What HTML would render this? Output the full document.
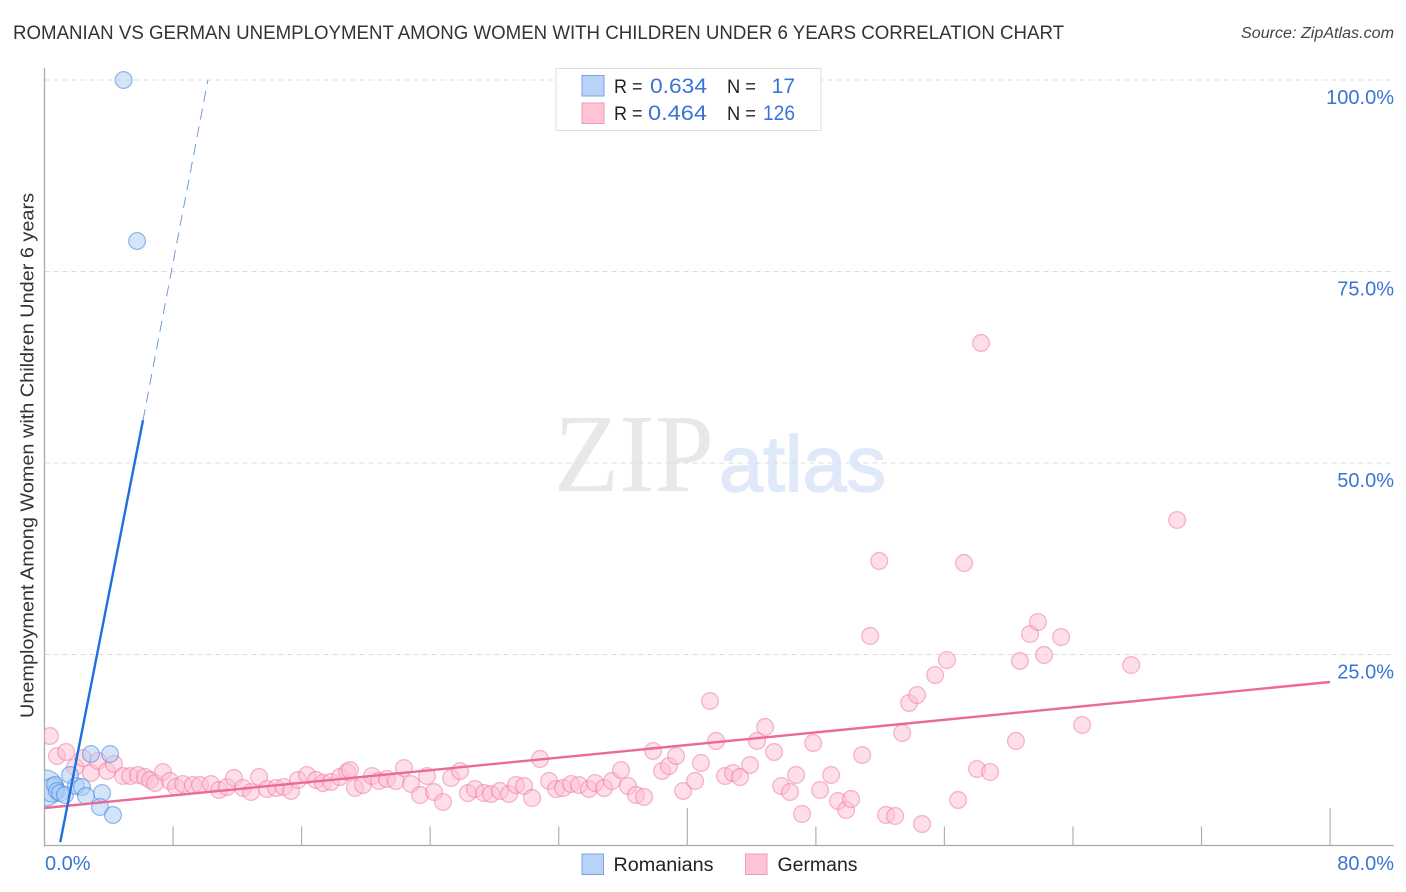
<!DOCTYPE html>
<html lang="en">
<head>
<meta charset="utf-8">
<title>Romanian vs German Unemployment Correlation Chart</title>
<style>
html,body{margin:0;padding:0;background:#fff;width:1406px;height:892px;overflow:hidden}
svg{display:block}
text{font-family:"Liberation Sans",sans-serif}
</style>
</head>
<body>
<svg id="chart" xmlns="http://www.w3.org/2000/svg" width="1406" height="892" viewBox="0 0 1406 892">
  <rect x="0" y="0" width="1406" height="892" fill="#ffffff"/>
  <text x="13" y="39" font-size="19" fill="#333333" textLength="1051" lengthAdjust="spacingAndGlyphs">ROMANIAN VS GERMAN UNEMPLOYMENT AMONG WOMEN WITH CHILDREN UNDER 6 YEARS CORRELATION CHART</text>
  <text x="1241" y="38" font-size="15.5" font-style="italic" fill="#444444" textLength="153" lengthAdjust="spacingAndGlyphs">Source: ZipAtlas.com</text>
  <g>
    <text x="554" y="491" font-size="111" fill="#e8e8e8" style="font-family:'Liberation Serif',serif" textLength="160" lengthAdjust="spacingAndGlyphs">ZIP</text>
    <text x="719" y="491" font-size="79" fill="#dfe9f9" stroke="#dfe9f9" stroke-width="1.5" textLength="167" lengthAdjust="spacingAndGlyphs">atlas</text>
  </g>
  <g id="grid"></g>
  <g id="axes"></g>
  <defs><clipPath id="plot-clip"><rect x="44.5" y="60" width="1350" height="786"/></clipPath></defs>
  <g id="germans" clip-path="url(#plot-clip)"></g>
  <g id="romanians" clip-path="url(#plot-clip)"></g>
  <g id="trends"></g>
  <text transform="translate(33.5,718) rotate(-90)" font-size="18.5" fill="#333333" textLength="525" lengthAdjust="spacingAndGlyphs">Unemployment Among Women with Children Under 6 years</text>
  <g>
    <rect x="556" y="68.5" width="265" height="62" fill="#ffffff" stroke="#dddddd" stroke-width="1"/>
    <rect x="582" y="75.5" width="22" height="20.5" fill="#b9d3f8" stroke="#75a5e6" stroke-width="1"/>
    <rect x="582" y="103" width="22" height="20.5" fill="#fec3d6" stroke="#f09ab8" stroke-width="1"/>
    <text x="614" y="93" font-size="19" fill="#222222" textLength="28.5" lengthAdjust="spacingAndGlyphs">R =</text>
    <text x="650" y="93" font-size="21" fill="#3a74d4" textLength="57" lengthAdjust="spacingAndGlyphs">0.634</text>
    <text x="727" y="93" font-size="19" fill="#222222" textLength="29" lengthAdjust="spacingAndGlyphs">N =</text>
    <text x="795" y="93" font-size="21" fill="#3a74d4" text-anchor="end">17</text>
    <text x="614" y="120" font-size="19" fill="#222222" textLength="28.5" lengthAdjust="spacingAndGlyphs">R =</text>
    <text x="648" y="120" font-size="21" fill="#3a74d4" textLength="59" lengthAdjust="spacingAndGlyphs">0.464</text>
    <text x="727" y="120" font-size="19" fill="#222222" textLength="29" lengthAdjust="spacingAndGlyphs">N =</text>
    <text x="763" y="120" font-size="21" fill="#3a74d4" textLength="32" lengthAdjust="spacingAndGlyphs">126</text>
  </g>
  <g>
    <rect x="582" y="854" width="21.5" height="20.5" fill="#b9d3f8" stroke="#75a5e6" stroke-width="1"/>
    <text x="613.5" y="871" font-size="19" fill="#222222" textLength="100" lengthAdjust="spacingAndGlyphs">Romanians</text>
    <rect x="745.5" y="854" width="21.5" height="20.5" fill="#fec3d6" stroke="#f09ab8" stroke-width="1"/>
    <text x="777.5" y="871" font-size="19" fill="#222222" textLength="80" lengthAdjust="spacingAndGlyphs">Germans</text>
  </g>
</svg>
<script>
const xTicks = [0, 8, 16, 24, 32, 40, 48, 56, 64, 72, 80];
const xMajorTicks = [0, 40, 80];
const xTickLabels = [0, 80];
const yTicks = [25, 50, 75, 100];

const romaniansX = [4.92, 5.76, 2.89, 4.08, 0.03, 0.47, 0.65, 0.78, 0.96, 1.27, 1.59, 1.96, 2.33, 2.58, 3.58, 3.45, 4.26];
const romaniansY = [100, 78.98, 12.01, 12.01, 7.57, 7.31, 7.96, 7.18, 6.92, 6.66, 9.27, 7.83, 7.70, 6.53, 6.92, 5.09, 4.05];
const romaniansWeight = [1, 1, 1, 1, 4.6, 2, 1, 1, 1, 1, 1, 1, 1, 1, 1, 1, 1];

const germansX = [0.34, 0.78, 1.34, 1.90, 2.40, 2.89, 3.33, 3.89, 4.32, 4.89, 5.32, 5.82, 6.25, 6.57, 6.88, 7.37, 7.81, 8.18, 8.62, 9.24, 9.68, 10.36, 10.86, 11.36, 11.79, 12.35, 12.85, 13.35, 13.85, 14.41, 14.90, 15.34, 15.78, 16.34, 16.90, 17.33, 17.83, 18.39, 18.83, 19.01, 19.32, 19.82, 20.38, 20.82, 21.31, 21.87, 22.37, 22.81, 23.37, 23.80, 24.24, 24.80, 25.30, 25.86, 26.35, 26.79, 27.35, 27.79, 28.35, 28.91, 29.34, 29.84, 30.34, 30.84, 31.40, 31.83, 32.27, 32.77, 33.26, 33.88, 34.26, 34.82, 35.32, 35.88, 36.31, 36.81, 37.31, 37.87, 38.43, 38.86, 39.30, 39.74, 40.48, 40.85, 41.41, 41.79, 42.35, 42.85, 43.28, 43.90, 44.34, 44.84, 45.40, 45.84, 46.39, 46.77, 47.14, 47.83, 48.26, 48.95, 49.38, 49.88, 50.19, 50.88, 51.38, 51.94, 52.37, 52.93, 53.37, 53.80, 54.30, 54.61, 55.42, 56.16, 56.85, 57.22, 58.03, 58.28, 58.84, 60.45, 60.70, 61.33, 61.82, 62.20, 63.26, 64.57, 67.62, 70.48];
const germansY = [14.36, 11.75, 12.27, 10.31, 11.49, 9.53, 11.10, 9.79, 10.71, 9.14, 9.14, 9.27, 9.01, 8.62, 8.22, 9.66, 8.49, 7.70, 8.09, 7.96, 7.96, 8.09, 7.31, 7.70, 8.88, 7.57, 7.05, 9.01, 7.44, 7.57, 7.70, 7.18, 8.62, 9.27, 8.62, 8.22, 8.36, 9.01, 9.66, 9.92, 7.57, 7.96, 9.14, 8.49, 8.75, 8.49, 10.18, 8.09, 6.66, 9.14, 7.05, 5.74, 8.88, 9.79, 6.92, 7.44, 6.92, 6.79, 7.18, 6.79, 7.96, 7.83, 6.27, 11.36, 8.49, 7.44, 7.57, 8.09, 7.96, 7.44, 8.22, 7.57, 8.49, 9.92, 7.83, 6.66, 6.40, 12.40, 9.79, 10.44, 11.75, 7.18, 8.49, 10.84, 18.93, 13.71, 9.14, 9.53, 9.01, 10.57, 13.71, 15.54, 12.27, 7.83, 7.05, 9.27, 4.18, 13.45, 7.31, 9.27, 5.87, 4.70, 6.14, 11.88, 27.42, 37.21, 4.05, 3.92, 14.75, 18.67, 19.71, 2.87, 22.32, 24.28, 6.01, 36.95, 10.05, 65.67, 9.66, 13.71, 24.15, 27.68, 29.24, 24.94, 27.28, 15.80, 23.63, 42.56];

const germansTrendX = [0, 80];
const germansTrendY = [4.96, 21.41];
const romaniansSolidTrendX = [0.98, 6.13];
const romaniansSolidTrendY = [0.5, 55.6];
const romaniansDashedTrendX = [6.13, 10.17];
const romaniansDashedTrendY = [55.6, 100];

const NS = 'http://www.w3.org/2000/svg';
const xPos = v => 44.5 + v * 16.07;
const yPos = v => 846 - v * 7.66;

function make(tag, attrs, parent) {
  const el = document.createElementNS(NS, tag);
  for (const k in attrs) el.setAttribute(k, attrs[k]);
  parent.appendChild(el);
  return el;
}

const grid = document.getElementById('grid');
const axes = document.getElementById('axes');
const trends = document.getElementById('trends');
const labelColor = '#3a74d4';

yTicks.forEach(v => {
  const line = make('line', {x1: 44.5, x2: 1394, y1: yPos(v), y2: yPos(v), stroke: '#dcdcdc', 'stroke-width': 1, 'stroke-dasharray': '5 4'}, grid);
  
  
  const label = make('text', {x: 1394, y: yPos(v) + 24, 'font-size': 20, fill: labelColor, 'text-anchor': 'end'}, axes);
  label.textContent = v.toFixed(1) + '%';
  
  
});

const yAxisLine = make('line', {x1: 44.5, x2: 44.5, y1: 68, y2: 846.5, stroke: '#aaaaaa', 'stroke-width': 1.3}, axes);


const xAxisLine = make('line', {x1: 44, x2: 1394, y1: 845.5, y2: 845.5, stroke: '#aaaaaa', 'stroke-width': 1.3}, axes);



xTicks.forEach(v => {
  if (v === 0) return;
  const major = xMajorTicks.includes(v);
  const tick = make('line', {x1: xPos(v), x2: xPos(v), y1: major ? 808 : 826.5, y2: 846, stroke: '#b0b0b0', 'stroke-width': 1.2}, axes);
  
  
});

xTickLabels.forEach(v => {
  const isFirst = v === xTickLabels[0];
  const label = make('text', {x: isFirst ? 45 : 1394, y: 870, 'font-size': 20, fill: labelColor, 'text-anchor': isFirst ? 'start' : 'end'}, axes);
  label.textContent = v.toFixed(1) + '%';
  
  
});

const germansGroup = document.getElementById('germans');
germansX.forEach((x, i) => {
  const dot = make('circle', {cx: xPos(x), cy: yPos(germansY[i]), r: 8.4, fill: 'rgba(254,190,212,0.5)', stroke: 'rgba(236,110,150,0.48)', 'stroke-width': 1.3}, germansGroup);
  
  
});

const romaniansGroup = document.getElementById('romanians');
romaniansX.forEach((x, i) => {
  const dot = make('circle', {cx: xPos(x), cy: yPos(romaniansY[i]), r: 8.4 * Math.sqrt(romaniansWeight[i]), fill: 'rgba(170,204,245,0.5)', stroke: 'rgba(60,130,220,0.52)', 'stroke-width': 1.3}, romaniansGroup);
  
  
});

const pinkTrend = make('line', {x1: xPos(germansTrendX[0]), y1: yPos(germansTrendY[0]), x2: xPos(germansTrendX[1]), y2: yPos(germansTrendY[1]), stroke: '#ec6a96', 'stroke-width': 2.4}, trends);


const blueSolid = make('line', {x1: xPos(romaniansSolidTrendX[0]), y1: yPos(romaniansSolidTrendY[0]), x2: xPos(romaniansSolidTrendX[1]), y2: yPos(romaniansSolidTrendY[1]), stroke: '#1f6fdc', 'stroke-width': 2.4}, trends);


const blueDashed = make('line', {x1: xPos(romaniansDashedTrendX[0]), y1: yPos(romaniansDashedTrendY[0]), x2: xPos(romaniansDashedTrendX[1]), y2: yPos(romaniansDashedTrendY[1]), stroke: '#6f9cdc', 'stroke-width': 1, 'stroke-dasharray': '11 7'}, trends);


</script>
</body>
</html>
